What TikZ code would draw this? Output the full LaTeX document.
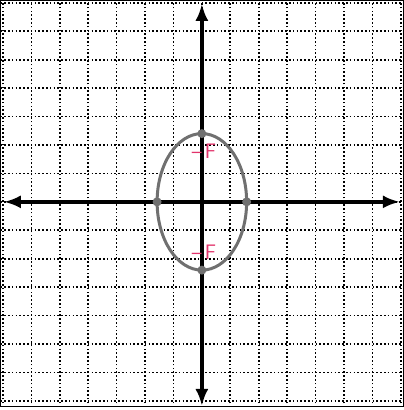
\documentclass[tikz,border=0pt]{standalone}
\usepackage{tikz}
\usetikzlibrary{arrows.meta}
\definecolor{Pencil}{HTML}{707070}
\definecolor{Marker}{HTML}{E2336B}

\begin{document}
\begin{tikzpicture}[x=22.4pt, y=22.4pt,
  gridline/.style={black, line width=1.6pt, dash pattern=on 1.6pt off 2.2pt},
  axis/.style={{Latex[length=17pt, width=13pt]}-{Latex[length=17pt, width=13pt]}, line width=3.6pt, black},
  curve/.style={draw=Pencil, line width=3pt},
  vertex/.style={circle, fill=Pencil, inner sep=0pt, minimum size=9pt},
  focus/.style={text=Marker, font=\sffamily\fontsize{21}{23}\selectfont, inner sep=0pt, anchor=west}]
  \useasboundingbox (-9.02,-9.3) rectangle (9.02,9.02);
  \fill[white] (-9.02,-9.3) rectangle (9.02,9.02);
  % grid and frame
  \draw[gridline] (-9,-9) grid (9,9);
  \draw[line width=1.5pt] (-9,-9.15) rectangle (9,9);
  % ellipse
  \draw[curve] (0,0) ellipse [x radius=2, y radius=3.05];
  % axes
  \coordinate (xl) at (-8.85,0);
  \coordinate (xr) at (8.85,0);
  \coordinate (yb) at (0,-9.12);
  \coordinate (yt) at (0,8.85);
  \draw[axis] (xl) -- (xr);
  \draw[axis] (yb) -- (yt);
  % vertices
  \node[vertex] (v1) at (0,3.05) {};
  \node[vertex] (v2) at (0,-3.05) {};
  \node[vertex] (v3) at (-2,0) {};
  \node[vertex] (v4) at (2,0) {};
  % foci
  \node[focus] (f1) at (-0.45,2.24) {--\hspace{3pt}F};
  \node[focus] (f2) at (-0.45,-2.24) {--\hspace{3pt}F};
\end{tikzpicture}
\end{document}
